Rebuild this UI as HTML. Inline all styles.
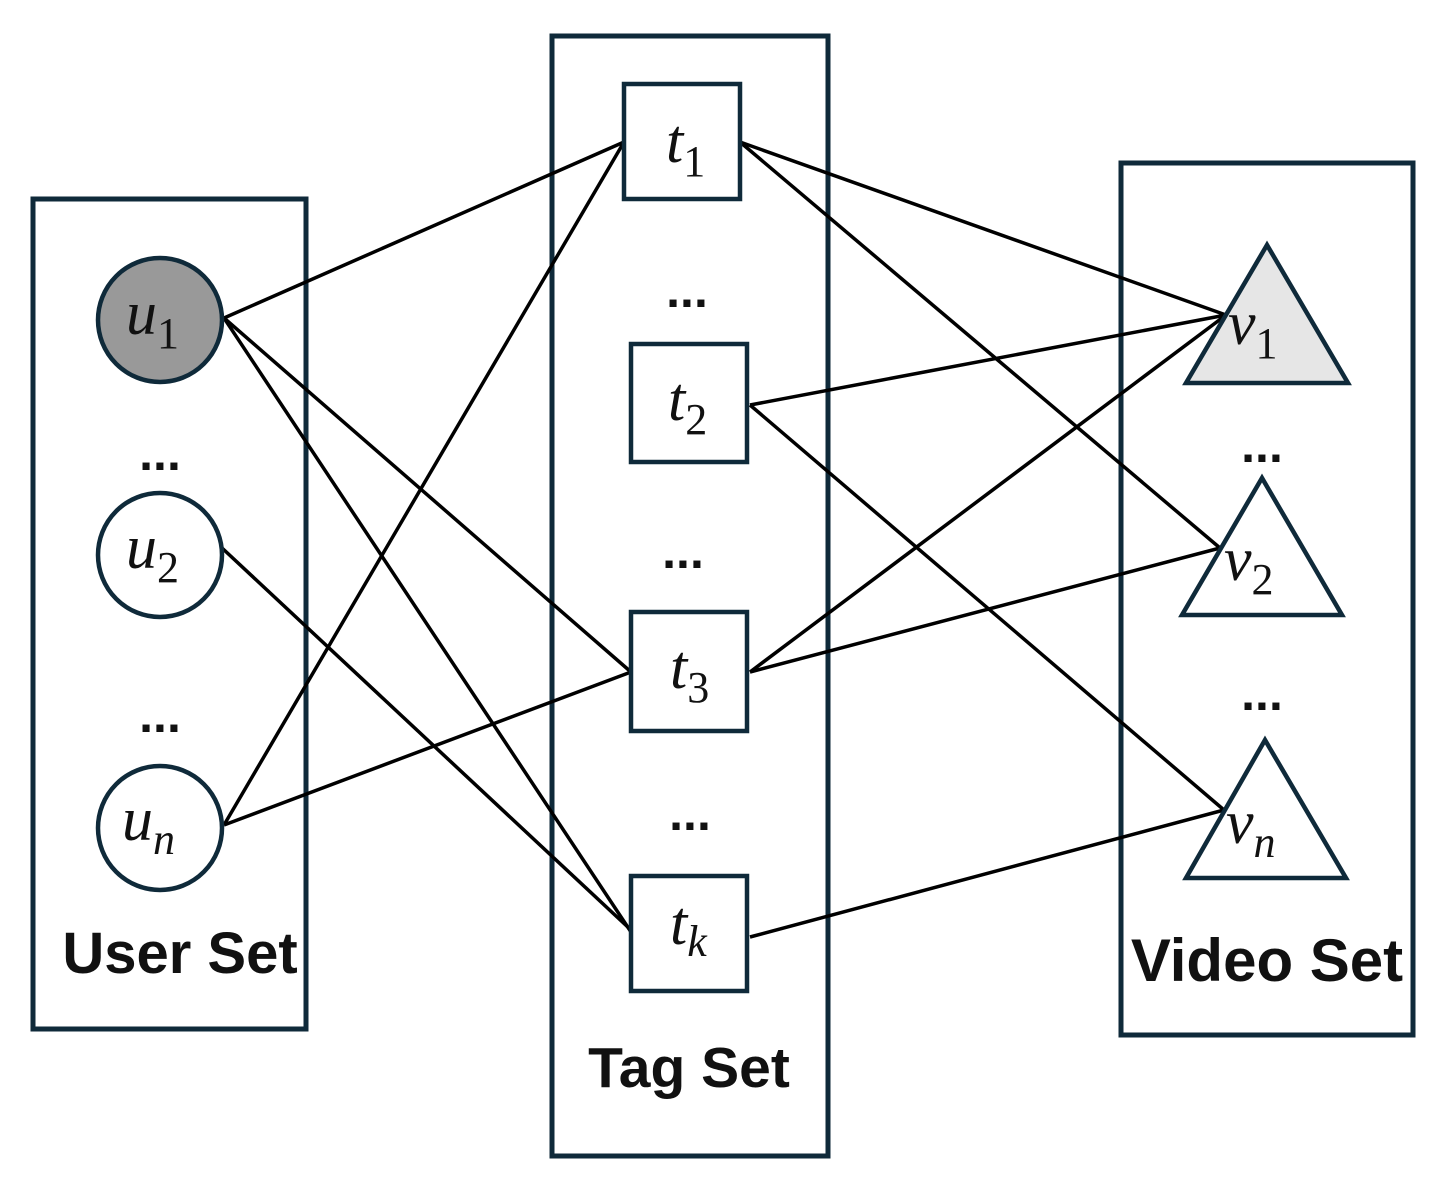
<!DOCTYPE html>
<html><head><style>body{margin:0;background:#fff}svg{display:block}</style></head><body>
<svg width="1442" height="1181" viewBox="0 0 1442 1181" xmlns="http://www.w3.org/2000/svg">
<g fill="none" stroke="#0f2a3a" stroke-width="5">
<rect x="33" y="199" width="273" height="830"/>
<rect x="552" y="36" width="276" height="1120"/>
<rect x="1121" y="163" width="292" height="872"/>
</g>
<g stroke="#000" stroke-width="3.5" fill="none">
<line x1="224" y1="318" x2="624" y2="142"/>
<line x1="224" y1="318" x2="631" y2="672"/>
<line x1="224" y1="318" x2="633" y2="935"/>
<line x1="222" y1="548" x2="631" y2="930"/>
<line x1="224" y1="825" x2="624" y2="142"/>
<line x1="224" y1="825" x2="631" y2="672"/>
<line x1="740" y1="142" x2="1226" y2="315"/>
<line x1="740" y1="142" x2="1220" y2="548"/>
<line x1="750" y1="405" x2="1226" y2="315"/>
<line x1="750" y1="405" x2="1224" y2="810"/>
<line x1="750" y1="672" x2="1226" y2="315"/>
<line x1="750" y1="672" x2="1220" y2="548"/>
<line x1="750" y1="937" x2="1224" y2="810"/>
</g>
<g stroke="#0f2a3a" stroke-width="4.5">
<circle cx="160" cy="320" r="62" fill="#999"/>
<circle cx="160" cy="555" r="62" fill="#fff"/>
<circle cx="160" cy="828" r="62" fill="#fff"/>
<rect x="624" y="84" width="116" height="115" fill="#fff"/>
<rect x="631" y="344" width="116" height="118" fill="#fff"/>
<rect x="631" y="612" width="116" height="119" fill="#fff"/>
<rect x="631" y="876" width="116" height="115" fill="#fff"/>
<polygon points="1267,245 1186,383 1348,383" fill="#e6e6e6"/>
<polygon points="1262,478 1182,615 1342,615" fill="#fff"/>
<polygon points="1265,740 1186,878 1346,878" fill="#fff"/>
</g>
<g font-family="Liberation Serif, serif" font-size="62" fill="#111">
<text x="126" y="334" font-style="italic">u<tspan font-style="normal" font-size="44" dy="14">1</tspan></text>
<text x="126" y="568" font-style="italic">u<tspan font-style="normal" font-size="44" dy="14">2</tspan></text>
<text x="122" y="840" font-style="italic">u<tspan font-size="44" dy="14">n</tspan></text>
<text x="666" y="162" font-style="italic">t<tspan font-style="normal" font-size="44" dy="14">1</tspan></text>
<text x="668" y="420" font-style="italic">t<tspan font-style="normal" font-size="44" dy="14">2</tspan></text>
<text x="670" y="688" font-style="italic">t<tspan font-style="normal" font-size="44" dy="14">3</tspan></text>
<text x="670" y="944" font-style="italic">t<tspan font-size="44" dy="12">k</tspan></text>
<text x="1228" y="344" font-style="italic">v<tspan font-style="normal" font-size="44" dy="14">1</tspan></text>
<text x="1224" y="580" font-style="italic">v<tspan font-style="normal" font-size="44" dy="14">2</tspan></text>
<text x="1226" y="843" font-style="italic">v<tspan font-size="44" dy="14">n</tspan></text>
</g>
<g font-family="Liberation Sans, sans-serif" font-weight="bold" font-size="50" fill="#111" text-anchor="middle">
<text x="160" y="470">...</text>
<text x="160" y="732">...</text>
<text x="687" y="307">...</text>
<text x="683" y="568">...</text>
<text x="690" y="830">...</text>
<text x="1262" y="462">...</text>
<text x="1262" y="710">...</text>
</g>
<g font-family="Liberation Sans, sans-serif" font-weight="bold" fill="#111" text-anchor="middle">
<text x="180" y="973" font-size="58">User Set</text>
<text x="689" y="1087" font-size="57">Tag Set</text>
<text x="1267" y="981" font-size="60">Video Set</text>
</g>
</svg>
</body></html>
